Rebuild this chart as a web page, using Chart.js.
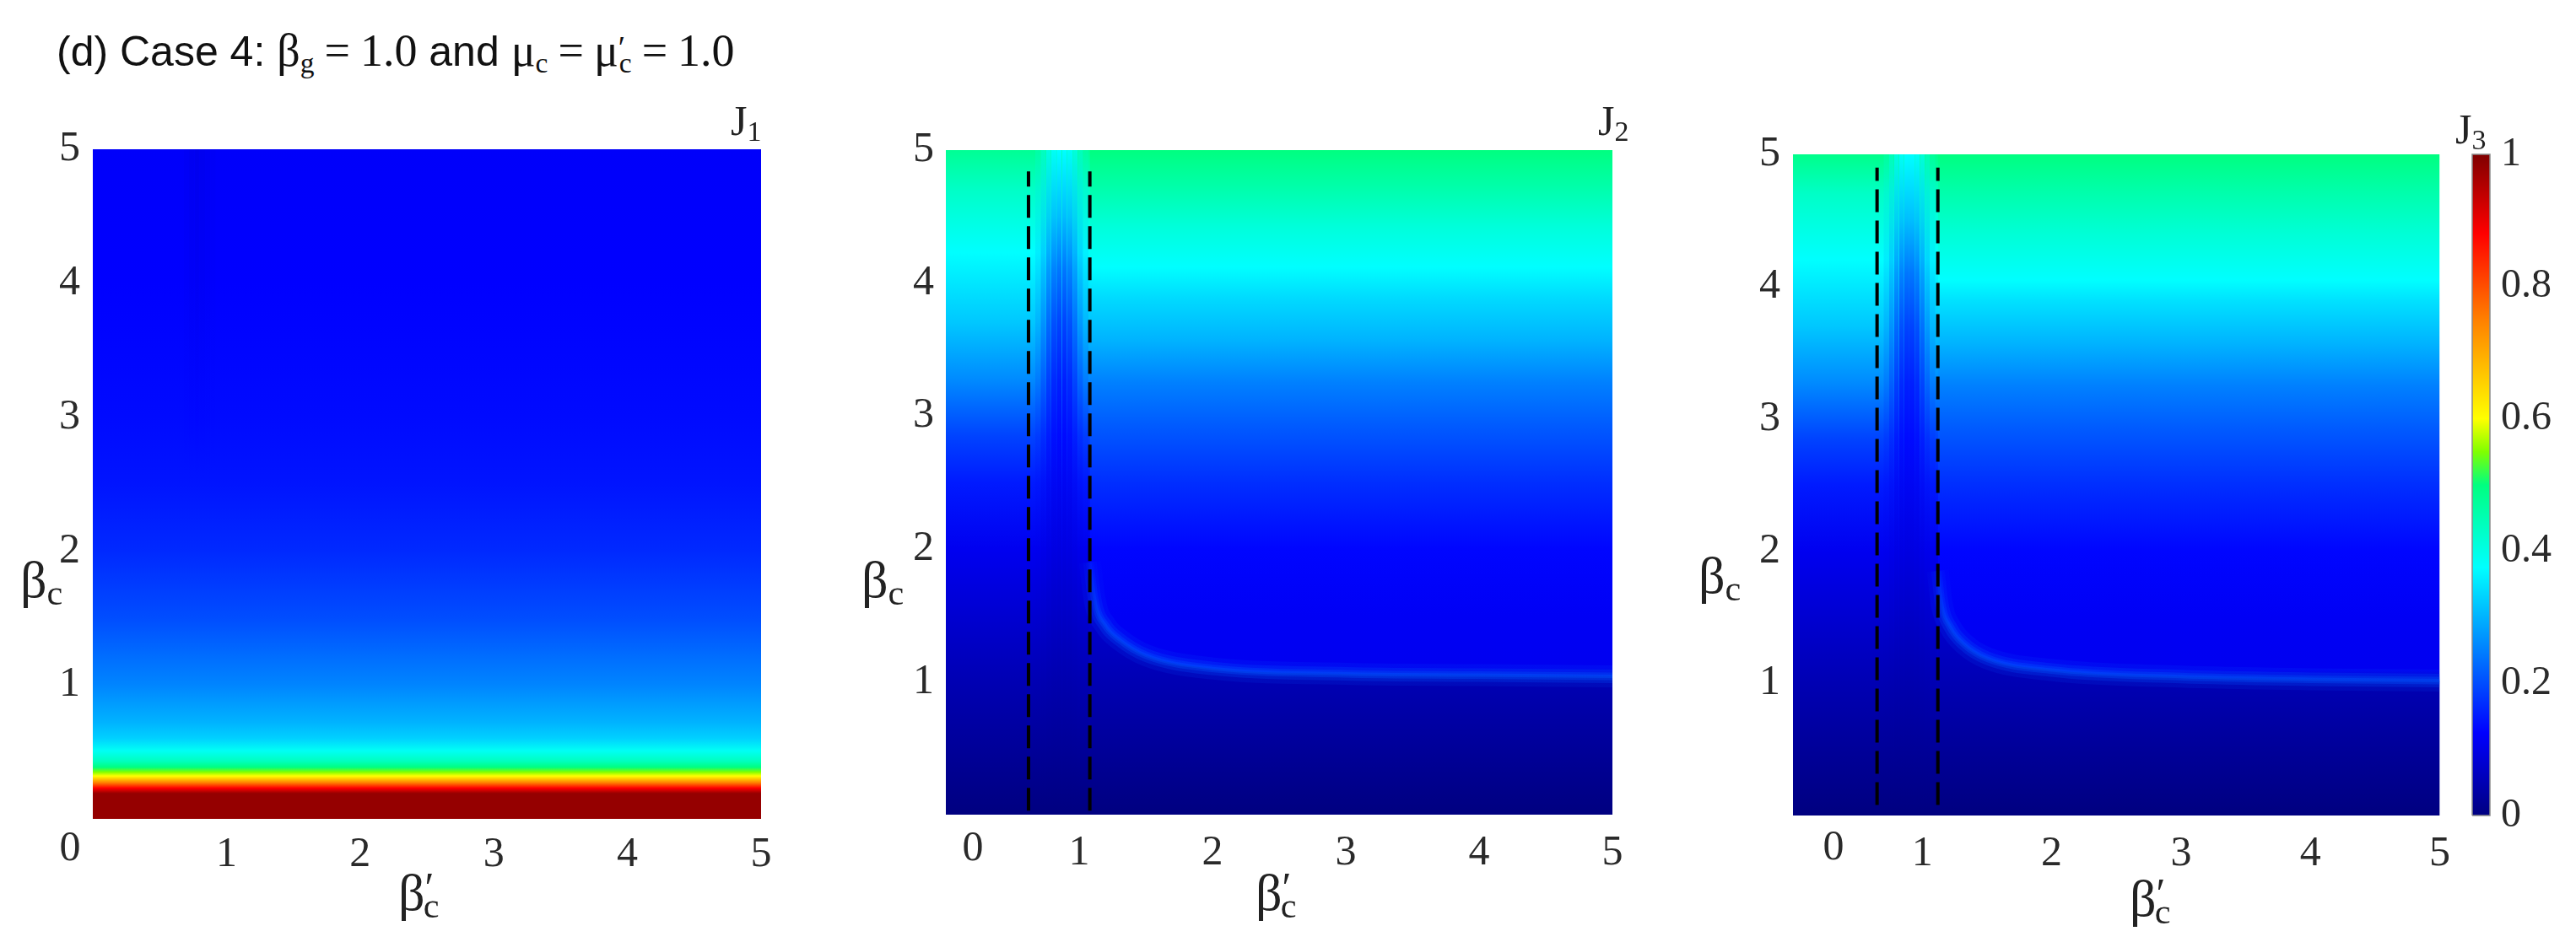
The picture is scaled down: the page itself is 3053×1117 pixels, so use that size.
<!DOCTYPE html>
<html>
<head>
<meta charset="utf-8">
<script src="https://cdn.jsdelivr.net/npm/chart.js@4.4.1/dist/chart.umd.min.js"></script>
<style>
  html, body { margin: 0; padding: 0; background: #fff; }
  #fig { position: relative; width: 3053px; height: 1117px; overflow: hidden; }
  canvas { position: absolute; }
  .lbl { position: absolute; font-family: 'Liberation Serif', serif; color: #222; white-space: nowrap; line-height: 1; }
  .lbl sub { font-size: 0.68em; vertical-align: -0.22em; }
  .lbl sup { font-size: 0.8em; vertical-align: 0.2em; }
  .ax { font-size: 62px; }
  .jl { font-size: 50px; }
  #title { position: absolute; left: 67px; top: 33px; font-family: 'Liberation Sans', Arial, sans-serif; font-size: 50px; color: #111; white-space: nowrap; line-height: 1; }
  #title .m { font-family: 'Liberation Serif', serif; font-size: 54px; }
  #title .eq { margin: 0 12px; }
  #title sub { font-size: 0.62em; vertical-align: -0.25em; }
  #title sup { font-size: 0.7em; vertical-align: 0.25em; }
</style>
</head>
<body>
<div id="fig">
  <canvas id="p1" width="1000" height="1017" style="left:0;top:100px"></canvas>
  <canvas id="p2" width="1000" height="1017" style="left:1000px;top:100px"></canvas>
  <canvas id="p3" width="920" height="1017" style="left:2000px;top:100px"></canvas>
  <canvas id="cb" width="133" height="1017" style="left:2920px;top:100px"></canvas>

  <div id="title">(d) Case 4: <span class="m">β<sub>g</sub><span class="eq">=</span>1.0</span> and <span class="m">μ<sub>c</sub><span class="eq">=</span>μ<sup>′</sup><sub style="margin-left:-0.22em">c</sub><span class="eq">=</span>1.0</span></div>

  <div class="lbl jl" style="left:866px;top:118px">J<sub>1</sub></div>
  <div class="lbl jl" style="left:1894px;top:118px">J<sub>2</sub></div>
  <div class="lbl jl" style="left:2910px;top:128px">J<sub>3</sub></div>

  <div class="lbl ax" style="left:24px;top:656px">β<sub>c</sub></div>
  <div class="lbl ax" style="left:1021px;top:656px">β<sub>c</sub></div>
  <div class="lbl ax" style="left:2013px;top:651px">β<sub>c</sub></div>

  <div class="lbl ax" style="left:472px;top:1027px">β<sup>′</sup><sub style="margin-left:-0.3em">c</sub></div>
  <div class="lbl ax" style="left:1488px;top:1027px">β<sup>′</sup><sub style="margin-left:-0.3em">c</sub></div>
  <div class="lbl ax" style="left:2524px;top:1034px">β<sup>′</sup><sub style="margin-left:-0.3em">c</sub></div>
</div>

<script>
// colour map (J value -> colour)
const cmapVals = [0, 0.125, 0.25, 0.375, 0.5, 0.55, 0.6, 0.75, 0.88, 1];
const cmapCols = ['#000080', '#0000ff', '#0080ff', '#00ffff', '#00ff80', '#80ff00', '#ffff00', '#ff8000', '#ff0000', '#800000'];

// J1: profile along beta_c (same for every beta'_c)
const j1Beta = [0, 0.19, 0.23, 0.27, 0.32, 0.35, 0.385, 0.43, 0.51, 0.6, 0.72, 1.0, 1.5, 2.0, 2.5, 3.0, 4.0, 5.0];
const j1Val  = [0.98, 0.98, 0.88, 0.75, 0.6, 0.55, 0.5, 0.44, 0.385, 0.33, 0.3, 0.255, 0.2, 0.165, 0.145, 0.135, 0.125, 0.12];
// faint darker streak near beta'_c = 0.8 at the top of J1
const j1StreakX = [0.68, 0.72, 0.76, 0.8, 0.84, 0.88, 0.92];
const j1StreakW = [0.2, 0.45, 0.6, 0.5, 0.35, 0.15];
const j1StreakBeta = [2.5, 3.0, 4.0, 5.0];
const j1StreakVal  = [0.145, 0.13, 0.11, 0.1];

// J2
const j2LeftBeta  = [0, 0.5, 1.0, 1.5, 2.0, 2.5, 2.85, 3.27, 3.7, 4.23, 4.7, 5];
const j2LeftVal   = [0.0, 0.025, 0.05, 0.08, 0.11, 0.15, 0.19, 0.26, 0.32, 0.375, 0.43, 0.48];
const j2RightBeta = [0, 1.0, 1.1, 1.5, 2.0, 2.5, 2.94, 3.25, 3.57, 3.89, 4.12, 4.42, 4.73, 5];
const j2RightVal  = [0.0, 0.06, 0.11, 0.115, 0.13, 0.17, 0.215, 0.25, 0.3, 0.34, 0.375, 0.41, 0.46, 0.5];
const j2NotchBeta = [0, 1.0, 1.5, 2.0, 2.85, 3.27, 3.7, 4.1, 4.5, 5];
const j2NotchVal  = [0.0, 0.045, 0.07, 0.095, 0.135, 0.155, 0.19, 0.24, 0.31, 0.375];
const j2NotchX = [0.67, 0.71, 0.75, 0.79, 0.83, 0.87, 0.91, 0.95, 0.99, 1.03, 1.07];
const j2NotchW = [0.15, 0.4, 0.7, 0.9, 1, 1, 0.9, 0.65, 0.35, 0.12];
const j2RidgeX = [1.08, 1.12, 1.2, 1.3, 1.5, 2, 3, 4, 5];
const j2RidgeY = [1.9, 1.6, 1.42, 1.32, 1.2, 1.1, 1.06, 1.05, 1.04];
const j2RidgeVal = 0.21;
const j2Dash = [0.62, 1.08];
const j2DashBeta = [0.03, 4.84];

// J3
const j3LeftBeta  = [0, 0.5, 1.0, 1.5, 2.0, 2.5, 2.85, 3.27, 3.7, 4.2, 4.7, 5];
const j3LeftVal   = [0.0, 0.025, 0.05, 0.08, 0.11, 0.15, 0.19, 0.26, 0.32, 0.375, 0.43, 0.49];
const j3RightBeta = [0, 1.0, 1.1, 1.5, 2.0, 2.5, 2.94, 3.25, 3.57, 3.89, 4.05, 4.4, 4.73, 5];
const j3RightVal  = [0.0, 0.06, 0.11, 0.115, 0.13, 0.17, 0.215, 0.25, 0.3, 0.345, 0.375, 0.415, 0.46, 0.5];
const j3NotchBeta = [0, 1.0, 1.5, 2.0, 2.85, 3.27, 3.7, 4.1, 4.5, 5];
const j3NotchVal  = [0.0, 0.045, 0.07, 0.095, 0.135, 0.155, 0.19, 0.24, 0.31, 0.375];
const j3NotchX = [0.7, 0.74, 0.78, 0.82, 0.86, 0.9, 0.94, 0.98, 1.02, 1.06, 1.1];
const j3NotchW = [0.15, 0.4, 0.7, 0.9, 1, 1, 0.9, 0.65, 0.35, 0.12];
const j3RidgeX = [1.12, 1.15, 1.22, 1.32, 1.5, 2, 3, 4, 5];
const j3RidgeY = [1.85, 1.6, 1.42, 1.3, 1.19, 1.1, 1.05, 1.03, 1.02];
const j3RidgeVal = 0.21;
const j3Dash = [0.65, 1.12];
const j3DashBeta = [0.08, 4.9];

const cbarTicks = [0, 0.2, 0.4, 0.6, 0.8, 1];

const tickFont = { family: "'Liberation Serif', serif", size: 50 };
const tickColor = '#2a2a2a';

function hexRgb(h) {
  return [1, 3, 5].map(i => parseInt(h.substr(i, 2), 16));
}

function colourAt(v) {
  for (let i = 1; i < cmapVals.length; i++) {
    if (v <= cmapVals[i]) {
      const t = (v - cmapVals[i - 1]) / (cmapVals[i] - cmapVals[i - 1]);
      const a = hexRgb(cmapCols[i - 1]), b = hexRgb(cmapCols[i]);
      return a.map((c, k) => Math.round(c + (b[k] - c) * t));
    }
  }
  return hexRgb(cmapCols[cmapCols.length - 1]);
}

function rgba(v, alpha) {
  const c = colourAt(v);
  return `rgba(${c[0]},${c[1]},${c[2]},${alpha})`;
}

// vertical gradient built from a profile, placed with the chart's y scale
function profileFill(betas, vals, alpha, yMax) {
  return (ctx) => {
    const chart = ctx.chart;
    if (!chart.chartArea) return 'transparent';
    const y = chart.scales.y;
    const y0 = y.getPixelForValue(0), y1 = y.getPixelForValue(yMax);
    const g = chart.ctx.createLinearGradient(0, y0, 0, y1);
    betas.forEach((b, i) => {
      g.addColorStop((y.getPixelForValue(b) - y0) / (y1 - y0), rgba(vals[i], alpha));
    });
    return g;
  };
}

function rect(x0, x1, lo, hi, fillFn, order) {
  return {
    data: [{ x: x0, y: hi }, { x: x1, y: hi }],
    fill: { value: lo }, backgroundColor: fillFn,
    borderWidth: 0, borderColor: 'transparent', order
  };
}

// a column made of thin strips, each strip showing the profile with its own strength
function stripColumn(xs, ws, betas, vals, order) {
  return ws.map((w, i) => rect(xs[i], xs[i + 1], betas[0], betas[betas.length - 1],
    profileFill(betas, vals, w, 5), order));
}

// soft light ridge: several strokes of falling strength, then the darker area under it
function ridgeSets(xs, ys, val, leftBeta, leftVal, order) {
  const pts = xs.map((x, i) => ({ x, y: ys[i] }));
  const fade = (alpha) => (ctx) => {
    const chart = ctx.chart;
    if (!chart.chartArea) return 'transparent';
    const y = chart.scales.y;
    const g = chart.ctx.createLinearGradient(0, y.getPixelForValue(2.05), 0, y.getPixelForValue(1.45));
    g.addColorStop(0, rgba(val, 0));
    g.addColorStop(1, rgba(val, alpha));
    return g;
  };
  const strokes = [[4, 0.35], [9, 0.3], [16, 0.22], [26, 0.12]];
  return [
    ...strokes.map((s, i) => ({
      data: pts, borderColor: fade(s[1]), borderWidth: s[0], fill: false,
      cubicInterpolationMode: 'monotone', order: order + i
    })),
    { data: pts, fill: 'origin', backgroundColor: profileFill(leftBeta, leftVal, 1, 5),
      borderWidth: 0, borderColor: 'transparent', cubicInterpolationMode: 'monotone', order: order + 4 }
  ];
}

function dashSets(xs, betas) {
  return xs.map(x => ({
    data: [{ x, y: betas[0] }, { x, y: betas[1] }],
    borderColor: '#000', borderWidth: 4, borderDash: [27, 10], fill: false, order: 0
  }));
}

const cornerZero = {
  id: 'cornerZero',
  afterDraw(chart, args, opts) {
    if (!opts || opts.dx === undefined) return;
    const { ctx } = chart;
    const x = chart.scales.x;
    ctx.save();
    ctx.font = "50px 'Liberation Serif', serif";
    ctx.fillStyle = tickColor;
    ctx.textAlign = 'center';
    ctx.textBaseline = 'middle';
    ctx.fillText('0', x.getPixelForValue(0) + opts.dx, x.top + opts.dy);
    ctx.restore();
  }
};

function panel(id, o) {
  return new Chart(document.getElementById(id), {
    type: 'line',
    data: { datasets: o.datasets },
    plugins: [cornerZero],
    options: {
      responsive: false,
      animation: false,
      events: [],
      layout: { padding: { top: o.padTop, right: o.padRight, left: 0, bottom: 0 } },
      elements: { point: { radius: 0 } },
      plugins: { legend: { display: false }, tooltip: { enabled: false }, cornerZero: o.zero },
      scales: {
        x: {
          type: 'linear', min: 0, max: 5,
          afterFit: s => { s.height = o.xAxisH; },
          grid: { display: false, drawTicks: false }, border: { display: false },
          ticks: { stepSize: 1, padding: o.xPad, font: tickFont, color: tickColor, maxRotation: 0,
                   callback: v => v === 0 ? '' : v }
        },
        y: {
          type: 'linear', min: 0, max: 5,
          afterFit: s => { s.width = o.yAxisW; },
          grid: { display: false, drawTicks: false }, border: { display: false },
          ticks: { stepSize: 1, padding: o.yPad, font: tickFont, color: tickColor,
                   callback: v => v === 0 ? '' : v }
        }
      }
    }
  });
}

// J1
panel('p1', {
  padTop: 77, padRight: 98, xAxisH: 146, yAxisW: 110, xPad: 13, yPad: 15,
  zero: { dx: -27, dy: 36 },
  datasets: [
    ...stripColumn(j1StreakX, j1StreakW, j1StreakBeta, j1StreakVal, 5),
    rect(0, 5, 0, 5, profileFill(j1Beta, j1Val, 1, 5), 10)
  ]
});

// J2
panel('p2', {
  padTop: 78, padRight: 89, xAxisH: 151, yAxisW: 121, xPad: 16, yPad: 14,
  zero: { dx: 32, dy: 41 },
  datasets: [
    ...dashSets(j2Dash, j2DashBeta),
    ...ridgeSets(j2RidgeX, j2RidgeY, j2RidgeVal, j2LeftBeta, j2LeftVal, 1),
    ...stripColumn(j2NotchX, j2NotchW, j2NotchBeta, j2NotchVal, 6),
    rect(j2Dash[1], 5, 0, 5, profileFill(j2RightBeta, j2RightVal, 1, 5), 9),
    rect(0, 5, 0, 5, profileFill(j2LeftBeta, j2LeftVal, 1, 5), 10)
  ]
});

// J3
panel('p3', {
  padTop: 83, padRight: 15, xAxisH: 150, yAxisW: 125, xPad: 16, yPad: 15,
  zero: { dx: 48, dy: 39 },
  datasets: [
    ...dashSets(j3Dash, j3DashBeta),
    ...ridgeSets(j3RidgeX, j3RidgeY, j3RidgeVal, j3LeftBeta, j3LeftVal, 1),
    ...stripColumn(j3NotchX, j3NotchW, j3NotchBeta, j3NotchVal, 6),
    rect(j3Dash[1], 5, 0, 5, profileFill(j3RightBeta, j3RightVal, 1, 5), 9),
    rect(0, 5, 0, 5, profileFill(j3LeftBeta, j3LeftVal, 1, 5), 10)
  ]
});

// colour bar
new Chart(document.getElementById('cb'), {
  type: 'line',
  data: {
    datasets: [
      { data: [{ x: 0, y: 0 }, { x: 0, y: 1 }, { x: 1, y: 1 }, { x: 1, y: 0 }, { x: 0, y: 0 }],
        borderColor: '#8a8a8a', borderWidth: 1.5, fill: false, clip: 3, order: 0 },
      rect(0, 1, 0, 1, profileFill(cmapVals, cmapVals, 1, 1), 1)
    ]
  },
  options: {
    responsive: false,
    animation: false,
    events: [],
    layout: { padding: { top: 83, bottom: 150, left: 10, right: 0 } },
    elements: { point: { radius: 0 } },
    plugins: { legend: { display: false }, tooltip: { enabled: false } },
    scales: {
      x: { type: 'linear', min: 0, max: 1, display: false },
      y: {
        position: 'right', min: 0, max: 1,
        afterFit: s => { s.width = 102; },
        afterBuildTicks: s => { s.ticks = cbarTicks.map(v => ({ value: v })); },
        grid: { display: false, drawTicks: false }, border: { display: false },
        ticks: { padding: 13, font: { family: "'Liberation Serif', serif", size: 48 }, color: tickColor,
                 callback: v => (v === 0 || v === 1) ? String(v) : v.toFixed(1) }
      }
    }
  }
});
</script>
</body>
</html>
